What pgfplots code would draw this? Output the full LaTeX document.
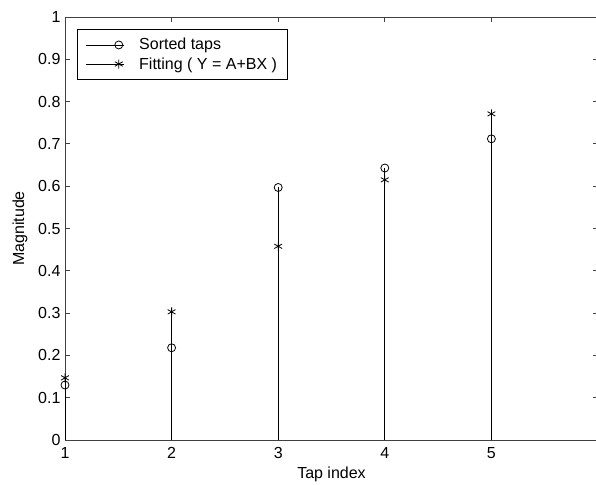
\documentclass[border=0pt]{standalone}
\usepackage{pgfplots}
\pgfplotsset{compat=1.18}
\usepackage{fontspec}
\setmainfont{Liberation Sans}
\begin{document}
\begin{tikzpicture}[x=1pt,y=1pt]
\begin{axis}[
  scale only axis,
  width=533pt, height=423pt,
  xmin=1, xmax=6, ymin=0, ymax=1,
  xtick={1,2,3,4,5},
  ytick={0,0.1,...,1},
  yticklabels={0,0.1,0.2,0.3,0.4,0.5,0.6,0.7,0.8,0.9,1},
  tick align=inside,
  major tick length=5pt,
  axis line style={draw=black!75, line width=0.9pt},
  every tick/.style={draw=black!75, line width=0.9pt},
  font=\fontsize{16}{18}\selectfont,
  tick label style={font=\fontsize{16}{18}\selectfont},
  xticklabel style={yshift=-4pt},
  yticklabel style={xshift=-1pt},
  /pgf/number format/assume math mode=true,
  xlabel={Tap index},
  ylabel={Magnitude},
  xlabel style={yshift=-1pt},
  ylabel style={yshift=4pt},
  legend style={at={(rel axis cs:0,1)}, anchor=north west, xshift=12pt, yshift=-12pt,
    draw=black, line width=0.8pt, font=\fontsize{16}{18}\selectfont,
    inner xsep=8pt, inner ysep=7pt, row sep=2pt,
    /tikz/every odd column/.style={column sep=13pt}},
  legend cell align=left,
  legend image code/.code={
    \draw[#1,mark=none] (0pt,0pt) -- (38pt,0pt);
    \draw[#1,only marks] plot coordinates {(33pt,0pt)};
  },
]
\addplot[ycomb, black, line width=0.8pt, mark=o, mark size=4pt, mark options={line width=0.8pt}]
  coordinates {(1,0.130) (2,0.218) (3,0.597) (4,0.643) (5,0.712)};
\addlegendentry{Sorted taps}
\addplot[ycomb, black, line width=0.8pt, mark=asterisk, mark size=4.5pt, mark options={line width=0.8pt}]
  coordinates {(1,0.147) (2,0.303) (3,0.458) (4,0.615) (5,0.771)};
\addlegendentry{Fitting ( Y = A+BX )}
\coordinate (O) at (rel axis cs:0,0);
\end{axis}
\pgfresetboundingbox
\path[use as bounding box] ([shift={(-65pt,-44pt)}]O) rectangle ([shift={(531pt,440pt)}]O);
\end{tikzpicture}
\end{document}
